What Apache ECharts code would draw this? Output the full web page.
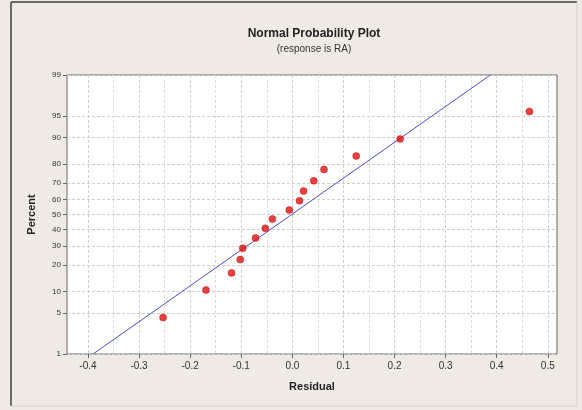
<!DOCTYPE html>
<html>
<head>
<meta charset="utf-8">
<script src="https://cdn.jsdelivr.net/npm/echarts@6/dist/echarts.min.js"></script>
<style>
  html, body { margin: 0; padding: 0; background: #efebe4; }
  #myChart { width: 582px; height: 410px; }
</style>
</head>
<body>
<div id="myChart"></div>
<script>
// residuals and their plotting positions (percent)
var residuals = [-0.253, -0.169, -0.119, -0.102, -0.097, -0.072, -0.053, -0.039,
                 -0.006, 0.014, 0.022, 0.042, 0.062, 0.125, 0.211, 0.464];
var percents  = [4.3, 10.4, 16.5, 22.6, 28.7, 34.8, 40.9, 47.0,
                 53.0, 59.1, 65.2, 71.3, 77.4, 83.5, 89.6, 95.7];

// fitted normal line: two ends on the frame
var fitX   = [-0.390, 0.3875];
var fitPct = [1, 99];

var xTicks     = [-0.4, -0.3, -0.2, -0.1, 0.0, 0.1, 0.2, 0.3, 0.4, 0.5];
var xMinorGrid = [-0.35, -0.25, -0.15, -0.05, 0.05, 0.15, 0.25, 0.35, 0.45];
var pctTicks   = [1, 5, 10, 20, 30, 40, 50, 60, 70, 80, 90, 95, 99];

// inverse normal cdf (Acklam) - used for the probability scale
function probit(p) {
    var a = [-3.969683028665376e+01, 2.209460984245205e+02, -2.759285104469687e+02,
             1.383577518672690e+02, -3.066479806614716e+01, 2.506628277459239e+00];
    var b = [-5.447609879822406e+01, 1.615858368580409e+02, -1.556989798598866e+02,
             6.680131188771972e+01, -1.328068155288572e+01];
    var c = [-7.784894002430293e-03, -3.223964580411365e-01, -2.400758277161838e+00,
             -2.549732539343734e+00, 4.374664141464968e+00, 2.938163982698783e+00];
    var d = [7.784695709041462e-03, 3.224671290700398e-01, 2.445134137142996e+00,
             3.754408661907416e+00];
    var pl = 0.02425, q, r;
    if (p < pl) {
        q = Math.sqrt(-2 * Math.log(p));
        return (((((c[0]*q+c[1])*q+c[2])*q+c[3])*q+c[4])*q+c[5]) /
               ((((d[0]*q+d[1])*q+d[2])*q+d[3])*q+1);
    }
    if (p > 1 - pl) {
        q = Math.sqrt(-2 * Math.log(1 - p));
        return -(((((c[0]*q+c[1])*q+c[2])*q+c[3])*q+c[4])*q+c[5]) /
                ((((d[0]*q+d[1])*q+d[2])*q+d[3])*q+1);
    }
    q = p - 0.5; r = q * q;
    return (((((a[0]*r+a[1])*r+a[2])*r+a[3])*r+a[4])*r+a[5])*q /
           (((((b[0]*r+b[1])*r+b[2])*r+b[3])*r+b[4])*r+1);
}

var zTicks = pctTicks.map(function (p) { return probit(p / 100); });
var points = residuals.map(function (x, i) { return [x, probit(percents[i] / 100)]; });
var fitLine = fitX.map(function (x, i) { return [x, probit(fitPct[i] / 100)]; });

var txtFont = 'Liberation Sans';
var myChart = echarts.init(document.getElementById('myChart'));
myChart.setOption({
    backgroundColor: '#efebe4',
    animation: false,
    title: {
        text: 'Normal Probability Plot',
        subtext: '(response is RA)',
        left: 309, top: 23, textAlign: 'center', itemGap: 4,
        textStyle: { fontFamily: txtFont, fontSize: 12, fontWeight: 'bold', color: '#222' },
        subtextStyle: { fontFamily: txtFont, fontSize: 10, color: '#333' }
    },
    graphic: [
        { type: 'line', shape: { x1: 11, y1: 2, x2: 11, y2: 406 }, style: { stroke: '#6a6a6a', lineWidth: 2 } },
        { type: 'line', shape: { x1: 11, y1: 2, x2: 577, y2: 2 }, style: { stroke: '#6a6a6a', lineWidth: 2 } },
        { type: 'line', shape: { x1: 577, y1: 2, x2: 577, y2: 406 }, style: { stroke: '#d6d2ca', lineWidth: 1 } },
        { type: 'line', shape: { x1: 11, y1: 406, x2: 577, y2: 406 }, style: { stroke: '#d6d2ca', lineWidth: 1 } }
    ],
    grid: {
        left: 67, right: 25, top: 75, bottom: 56,
        show: true, backgroundColor: '#fff', borderColor: '#666', borderWidth: 1
    },
    xAxis: [{
        type: 'value', min: -0.441, max: 0.518,
        name: 'Residual', nameLocation: 'middle', nameGap: 27,
        nameTextStyle: { fontFamily: txtFont, fontSize: 11, fontWeight: 'bold', color: '#222' },
        axisLine: { show: false, onZero: false },
        axisTick: { show: true, length: 4, customValues: xTicks, lineStyle: { color: '#666' } },
        axisLabel: { customValues: xTicks, fontFamily: txtFont, fontSize: 10, color: '#333', margin: 7,
                     formatter: function (v) { return v.toFixed(1); } },
        splitLine: { show: true, lineStyle: { color: '#cfcfcf', type: [3, 2] } }
    }, {
        type: 'value', min: -0.441, max: 0.518, position: 'bottom',
        axisLine: { show: false, onZero: false },
        axisTick: { show: false, customValues: xMinorGrid },
        axisLabel: { show: false, customValues: xMinorGrid },
        splitLine: { show: true, lineStyle: { color: '#dedede', type: [3, 2] } }
    }],
    yAxis: {
        type: 'value', min: probit(0.01), max: probit(0.99),
        name: 'Percent', nameLocation: 'middle', nameGap: 30,
        nameTextStyle: { fontFamily: txtFont, fontSize: 11, fontWeight: 'bold', color: '#222' },
        axisLine: { show: false, onZero: false },
        axisTick: { show: true, length: 4, customValues: zTicks, lineStyle: { color: '#666' } },
        axisLabel: {
            customValues: zTicks, fontFamily: txtFont, fontSize: 8, color: '#333', margin: 6,
            formatter: function (v) {
                for (var i = 0; i < zTicks.length; i++) {
                    if (Math.abs(zTicks[i] - v) < 1e-6) return String(pctTicks[i]);
                }
                return '';
            }
        },
        splitLine: { show: true, lineStyle: { color: '#cfcfcf', type: [3, 2] } }
    },
    series: [{
        type: 'line',
        data: fitLine,
        symbol: 'none',
        lineStyle: { color: '#4b4bd6', width: 1 },
        z: 2
    }, {
        type: 'scatter',
        data: points,
        symbol: 'circle',
        symbolSize: 7,
        itemStyle: { color: '#e01010', borderColor: '#c00000', borderWidth: 0.5 },
        z: 3
    }]
});
</script>
</body>
</html>
